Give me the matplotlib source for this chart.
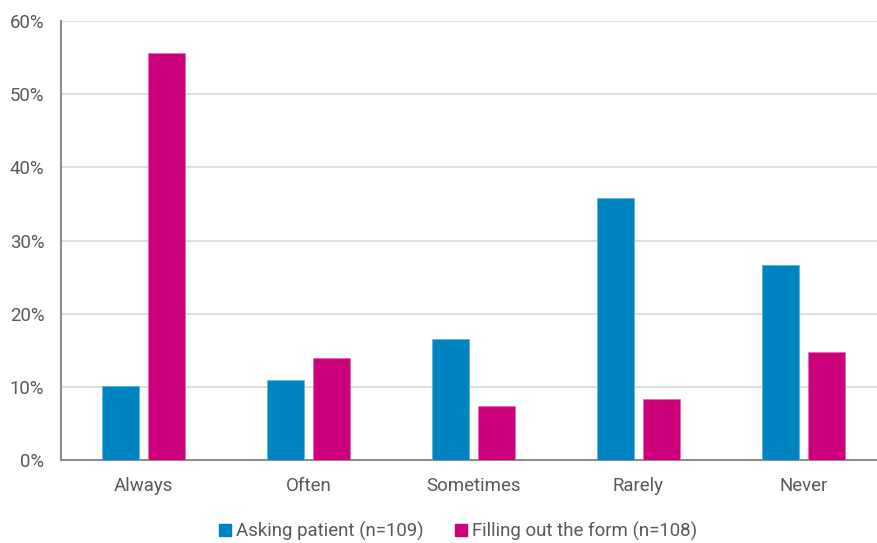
import numpy as np
import matplotlib.pyplot as plt
from matplotlib.patches import Patch

plt.rcParams['font.family'] = ['Roboto', 'DejaVu Sans']

categories = ['Always', 'Often', 'Sometimes', 'Rarely', 'Never']
asking = [10.1, 11.0, 16.5, 35.8, 26.6]
filling = [55.6, 13.9, 7.4, 8.3, 14.8]
labels = ['Asking patient (n=109)', 'Filling out the form (n=108)']
colors = ['#0083c1', '#cc007a']

fig = plt.figure(figsize=(8.77, 5.43), dpi=100)
ax = fig.add_axes([61 / 877, (543 - 460) / 543, 825 / 877, 439 / 543])

x = np.arange(len(categories))
w = 0.224
off = 0.142
ax.bar(x - off, asking, w, color=colors[0], edgecolor='#5fb6e0', linewidth=0.6, zorder=3)
ax.bar(x + off, filling, w, color=colors[1], edgecolor='#e46fb0', linewidth=0.6, zorder=3)

ax.set_xlim(-0.5, 4.5)
ax.set_ylim(0, 60)
ax.set_yticks(range(0, 61, 10))
ax.set_yticklabels([f'{v}%' for v in range(0, 61, 10)])
ax.set_xticks(x)
ax.set_xticklabels(categories)
ax.tick_params(length=0, labelsize=13.4, colors='#595959')
ax.tick_params(axis='y', pad=12)
ax.tick_params(axis='x', pad=12)
ax.grid(axis='y', color='#d9d9d9', linewidth=1.2, zorder=0)
for s in ['top', 'right']:
    ax.spines[s].set_visible(False)
for s in ['left', 'bottom']:
    ax.spines[s].set_color('#8c8c8c')
    ax.spines[s].set_linewidth(1.5)

handles = [Patch(color=c) for c in colors]
fig.legend(handles, labels, loc='center', bbox_to_anchor=(458 / 877, 1 - 531 / 543),
           ncol=2, frameon=False, fontsize=13.4, labelcolor='#595959',
           handlelength=0.65, handleheight=0.65, handletextpad=0.25, columnspacing=1.7)

fig.savefig('out.png')
